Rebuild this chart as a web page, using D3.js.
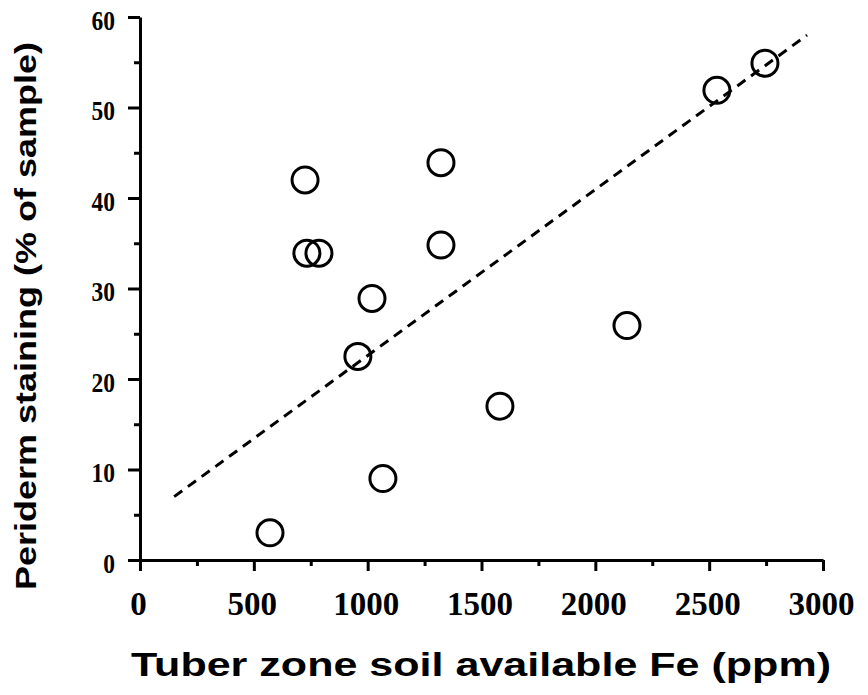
<!DOCTYPE html>
<html>
<head>
<meta charset="utf-8">
<script src="https://cdn.jsdelivr.net/npm/d3@7"></script>
<style>
  html, body { margin: 0; padding: 0; background: #fff; }
  svg { display: block; }
</style>
</head>
<body>
<svg id="chart" width="868" height="695"></svg>
<script>
// Soil available Fe (ppm) in the tuber zone vs. periderm staining (% of sample)
const fePpm    = [571, 725, 733, 786, 957, 1019, 1067, 1322, 1322, 1581, 2139, 2534, 2745];
const staining = [3.0, 42.0, 33.9, 33.9, 22.5, 28.9, 9.0, 43.9, 34.8, 17.0, 25.9, 51.9, 54.9];

// Fitted trend line end points
const fitFe    = [150, 2930];
const fitStain = [7.0, 58.0];

const xMajorTicks = [0, 500, 1000, 1500, 2000, 2500, 3000];
const xMinorTicks = [250, 750, 1250, 1750, 2250, 2750];
const yMajorTicks = [0, 10, 20, 30, 40, 50, 60];
const yMinorTicks = [5, 15, 25, 35, 45, 55];

const xTitle = "Tuber zone soil available Fe (ppm)";
const yTitle = "Periderm staining (% of sample)";

const svg = d3.select("#chart");

const x = d3.scaleLinear().domain([0, 3000]).range([140, 823]);
const y = d3.scaleLinear().domain([0, 60]).range([560, 17]);

const tickFont = "'Liberation Serif', 'Times New Roman', serif";
const titleFont = "'Liberation Sans', Arial, sans-serif";

// X axis: major ticks with labels, minor ticks without
const xAxisG = svg.append("g").attr("transform", `translate(0,${y(0)})`);
xAxisG.call(d3.axisBottom(x).tickValues(xMajorTicks).tickSize(11).tickSizeOuter(0).tickFormat(d3.format("d")));
const xMinorG = svg.append("g").attr("transform", `translate(0,${y(0)})`);
xMinorG.call(d3.axisBottom(x).tickValues(xMinorTicks).tickSize(6).tickFormat(""));
xMinorG.select(".domain").remove();

// Y axis
const yAxisG = svg.append("g").attr("transform", `translate(${x(0)},0)`);
yAxisG.call(d3.axisLeft(y).tickValues(yMajorTicks).tickSize(12).tickSizeOuter(0).tickFormat(d3.format("d")));
const yMinorG = svg.append("g").attr("transform", `translate(${x(0)},0)`);
yMinorG.call(d3.axisLeft(y).tickValues(yMinorTicks).tickSize(6).tickFormat(""));
yMinorG.select(".domain").remove();

svg.selectAll(".domain").style("stroke", "#000").style("stroke-width", "3px");
svg.selectAll(".tick line").style("stroke", "#000").style("stroke-width", "3px");

xAxisG.selectAll(".tick text")
  .attr("y", 0).attr("dy", 0)
  .attr("transform", "translate(-2,55)")
  .attr("fill", "#000")
  .style("font-family", tickFont)
  .style("font-weight", "bold")
  .style("font-size", "33px");

yAxisG.selectAll(".tick text")
  .attr("x", 0).attr("dy", 0)
  .attr("text-anchor", "end")
  .attr("transform", "translate(-25,12) scale(0.84,1)")
  .attr("fill", "#000")
  .style("font-family", tickFont)
  .style("font-weight", "bold")
  .style("font-size", "28px");

// Dashed fitted line
const line = d3.line().x(d => x(d[0])).y(d => y(d[1]));
svg.append("path")
  .datum(d3.zip(fitFe, fitStain))
  .attr("d", line)
  .attr("fill", "none")
  .attr("stroke", "#000")
  .attr("stroke-width", 3)
  .attr("stroke-dasharray", "10,7");

// Open circle markers
svg.append("g")
  .selectAll("circle")
  .data(d3.zip(fePpm, staining))
  .join("circle")
  .attr("cx", d => x(d[0]))
  .attr("cy", d => y(d[1]))
  .attr("r", 13)
  .attr("fill", "none")
  .attr("stroke", "#000")
  .attr("stroke-width", 3);

// Axis titles
svg.append("text")
  .attr("x", 481).attr("y", 676)
  .attr("text-anchor", "middle")
  .attr("textLength", 700)
  .attr("lengthAdjust", "spacingAndGlyphs")
  .attr("fill", "#000")
  .style("font-family", titleFont)
  .style("font-weight", "bold")
  .style("font-size", "34px")
  .text(xTitle);

svg.append("text")
  .attr("transform", "translate(36,316) rotate(-90)")
  .attr("text-anchor", "middle")
  .attr("textLength", 548)
  .attr("lengthAdjust", "spacingAndGlyphs")
  .attr("fill", "#000")
  .style("font-family", titleFont)
  .style("font-weight", "bold")
  .style("font-size", "30px")
  .text(yTitle);
</script>
</body>
</html>
